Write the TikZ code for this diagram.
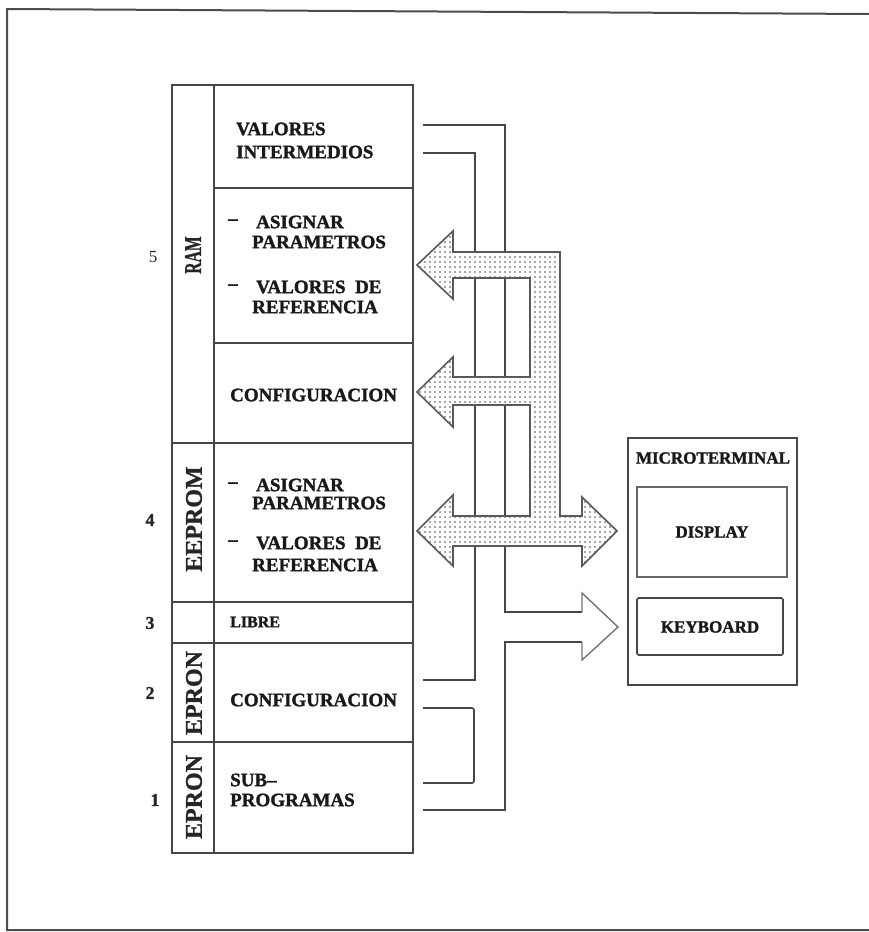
\documentclass[tikz,border=0pt]{standalone}
\usepackage{fontspec}
\setmainfont{Liberation Serif}
\usetikzlibrary{patterns}
\pgfdeclarepatternformonly{bigdots}{\pgfqpoint{-1pt}{-1pt}}{\pgfqpoint{1pt}{1pt}}{\pgfqpoint{5pt}{5pt}}{\pgfpathcircle{\pgfqpoint{0pt}{0pt}}{0.9pt}\pgfusepath{fill}}
\begin{document}
\begin{tikzpicture}[x=1pt,y=-1pt,
  ln/.style={line width=1.6pt, draw=black!72},
  txt/.style={font=\fontsize{19}{19}\selectfont\bfseries\addfontfeatures{FakeBold=1.5}, anchor=west, inner sep=0pt, text=black!90},
  side/.style={font=\fontsize{24}{24}\selectfont\bfseries\addfontfeatures{FakeBold=1}, rotate=90, inner sep=0pt, text=black!85},
  num/.style={font=\fontsize{18}{18}\selectfont\bfseries\addfontfeatures{FakeBold=1}, inner sep=0pt, text=black!85},
  mtxt/.style={font=\fontsize{17}{17}\selectfont\bfseries\addfontfeatures{FakeBold=1.5}, inner sep=0pt, text=black!90},
  bus/.style={line width=1.6pt, draw=black!65, line join=miter, preaction={fill=white}, pattern=bigdots, pattern color=black!70},
  head/.style={line width=1.4pt, draw=black!55, line join=miter}]
\useasboundingbox (0,0) rectangle (869,932);
% outer frame
\draw[line width=2pt, black!70] (869,14) -- (7,9) -- (7,930) -- (869,930);

% memory column
\coordinate (mtl) at (172,85);
\coordinate (mbr) at (413,853);
\draw[ln] (mtl) rectangle (mbr);
\draw[ln] (214,85) -- (214,853);
\foreach \y in {443,602,643,742} \draw[ln] (172,\y) -- (413,\y);
\foreach \y in {188,343} \draw[ln] (214,\y) -- (413,\y);

% side labels
\node[side] (ram) at (193,255) {\scalebox{0.65}[1]{RAM}};
\node[side] (eeprom) at (194,519) {EEPROM};
\node[side] (epron2) at (194,693) {EPRON};
\node[side] (epron1) at (194,797) {EPRON};

% numbers
\node[num, font=\fontsize{17}{17}\selectfont] (n5) at (153,257) {5};
\node[num] (n4) at (150,520) {4};
\node[num] (n3) at (150,623) {3};
\node[num] (n2) at (150,693) {2};
\node[num] (n1) at (155,800) {1};

% cell texts
\node[txt] (vi1) at (236,129) {VALORES};
\node[txt] (vi2) at (236,152) {INTERMEDIOS};
\node[txt] (d1) at (228,222) {--};
\node[txt] (ap1) at (256,222) {ASIGNAR};
\node[txt] (ap2) at (252,242) {PARAMETROS};
\node[txt] (d2) at (228,287) {--};
\node[txt] (vr1) at (256,287) {VALORES\ \ DE};
\node[txt] (vr2) at (252,307) {REFERENCIA};
\node[txt] (cf1) at (230,395) {CONFIGURACION};
\node[txt] (d3) at (228,485) {--};
\node[txt] (ap3) at (256,485) {ASIGNAR};
\node[txt] (ap4) at (252,503) {PARAMETROS};
\node[txt] (d4) at (228,543) {--};
\node[txt] (vr3) at (256,543) {VALORES\ \ DE};
\node[txt] (vr4) at (252,565) {REFERENCIA};
\node[txt, font=\fontsize{16}{16}\selectfont\bfseries\addfontfeatures{FakeBold=1.5}] (lib) at (230,622) {LIBRE};
\node[txt] (cf2) at (230,700) {CONFIGURACION};
\node[txt] (sp1) at (230,780) {SUB--};
\node[txt] (sp2) at (230,800) {PROGRAMAS};

% connector end points
\coordinate (a1) at (423,125);
\coordinate (a2) at (423,153);
\coordinate (a3) at (423,680);
\coordinate (a4) at (423,708);
\coordinate (a5) at (423,783);
\coordinate (a6) at (423,810);
\coordinate (k1) at (582,612);
\coordinate (k2) at (582,642);

\draw[ln] (a1) -- (505,125) -- (505,612) -- (k1);
\draw[ln] (a2) -- (475,153) -- (475,680) -- (a3);
\draw[ln, rounded corners=2pt] (a4) -- (474,708) -- (474,783) -- (a5);
\draw[ln] (a6) -- (505,810) -- (505,642) -- (k2);
\draw[head] (k1) -- (582,593) -- (618,627) -- (582,660) -- (k2);

% dotted bus
\draw[bus] (560,252) -- (560,516) -- (582,516) -- (582,497) -- (617,531) -- (582,566) -- (582,546)
  -- (453,546) -- (453,566) -- (417,531) -- (453,495) -- (453,516) -- (530,516)
  -- (530,405) -- (453,405) -- (453,427) -- (417,392) -- (453,357) -- (453,377) -- (530,377)
  -- (530,278) -- (453,278) -- (453,299) -- (417,265) -- (453,231) -- (453,252) -- cycle;

% microterminal
\draw[ln] (628,438) rectangle (797,685);
\node[mtxt] (mt) at (713,458) {MICROTERMINAL};
\draw[ln, draw=black!60] (637,487) rectangle (787,577);
\node[mtxt] (disp) at (712,532) {DISPLAY};
\draw[ln, rounded corners=1.5pt] (637,598) rectangle (783,655);
\node[mtxt] (kb) at (710,627) {KEYBOARD};
\end{tikzpicture}
\end{document}
